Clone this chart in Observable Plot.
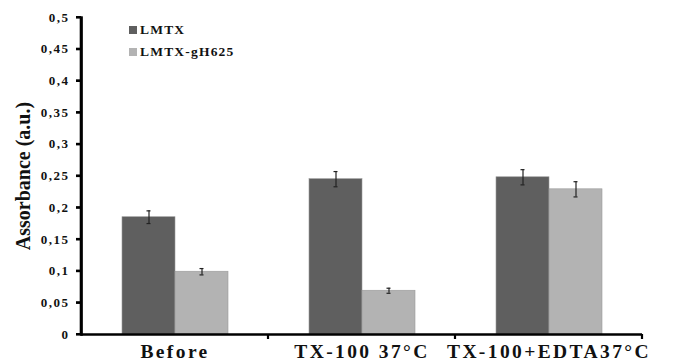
<!DOCTYPE html>
<html><head><meta charset="utf-8">
<script src="https://cdn.jsdelivr.net/npm/d3@7"></script>
<script src="https://cdn.jsdelivr.net/npm/@observablehq/plot@0.6"></script>
<style>
html,body{margin:0;padding:0;background:#fff;}
#wrap{position:relative;width:681px;height:363px;overflow:hidden;background:#fff;}
#wrap > svg{position:absolute;left:0;top:0;}
#overlay{position:absolute;left:0;top:0;pointer-events:none;z-index:5;}
#legend{position:absolute;left:129px;top:19px;font:bold 13.5px "Liberation Serif",serif;letter-spacing:1.2px;color:#111;z-index:6;}
#legend .row{display:flex;align-items:center;height:22px;}
#legend .sw{width:8px;height:8px;margin-right:3px;}
svg [aria-label="y-axis tick label"] text{letter-spacing:1.5px;}
svg [aria-label="fx-axis tick label"] text{letter-spacing:2.4px;}
</style></head>
<body><div id="wrap"></div>
<script>
const categories = ["Before", "TX-100 37°C", "TX-100+EDTA37°C"];
const seriesNames = ["LMTX", "LMTX-gH625"];
const lmtxValues = [0.185, 0.245, 0.248];
const lmtxErrors = [0.010, 0.012, 0.012];
const gh625Values = [0.099, 0.069, 0.229];
const gh625Errors = [0.005, 0.004, 0.012];
const yTicks = [0, 0.05, 0.1, 0.15, 0.2, 0.25, 0.3, 0.35, 0.4, 0.45, 0.5];
const yLabel = "Assorbance (a.u.)";
const colors = ["#5f5f5f", "#b3b3b3"];

const W = 681, H = 363, ML = 81, MR = 39, MT = 17, MB = 29;

const rows = [];
categories.forEach((c, i) => {
  rows.push({category: c, series: seriesNames[0], value: lmtxValues[i], err: lmtxErrors[i]});
  rows.push({category: c, series: seriesNames[1], value: gh625Values[i], err: gh625Errors[i]});
});

const plot = Plot.plot({
  width: W, height: H,
  marginLeft: ML, marginRight: MR, marginTop: MT, marginBottom: MB,
  style: {fontFamily: '"Liberation Serif", serif', background: "white", color: "#111"},
  fx: {domain: categories, padding: 0, label: null},
  x: {domain: seriesNames, paddingInner: 0, paddingOuter: 0.76, axis: null},
  y: {domain: [0, 0.5]},
  color: {domain: seriesNames, range: colors},
  marks: [
    Plot.barY(rows, {fx: "category", x: "series", y: "value", fill: "series", stroke: "#9a9a9a", strokeWidth: 0.6}),
    Plot.ruleX(rows, {fx: "category", x: "series", y1: d => d.value - d.err, y2: d => d.value + d.err, stroke: "#222", strokeWidth: 1.2}),
    Plot.tickY(rows, {fx: "category", x: "series", y: d => d.value - d.err, stroke: "#222", strokeWidth: 1.2, insetLeft: 24.5, insetRight: 24.5}),
    Plot.tickY(rows, {fx: "category", x: "series", y: d => d.value + d.err, stroke: "#222", strokeWidth: 1.2, insetLeft: 24.5, insetRight: 24.5}),
    Plot.ruleY([0], {stroke: "#000", strokeWidth: 2.6}),
    Plot.frame({anchor: "left", facetAnchor: "left", stroke: "#000", strokeWidth: 2.6}),
    Plot.axisY(yTicks, {tickFormat: d => String(d).replace(".", ","), tickSize: 5, tickPadding: 7, stroke: "#000", strokeWidth: 2.2, fontSize: 13, fontWeight: "bold", label: null}),
    Plot.axisY({ticks: [], label: yLabel, labelAnchor: "center", labelArrow: "none", labelOffset: 66, fontSize: 20, fontWeight: "bold"}),
    Plot.axisFx({anchor: "bottom", tickSize: 0, tickPadding: 10, fontSize: 19.5, fontWeight: "bold", label: null})
  ]
});

const wrap = document.getElementById("wrap");
wrap.appendChild(plot);

// Overlay: y-axis spine, y tick nubs and category boundary ticks, positioned with the plot's own scales
const ys = plot.scale("y");
const fxs = plot.scale("fx");
const y0 = ys.apply(0), yTop = ys.apply(d3.max(yTicks));
const left = fxs.apply(categories[0]);
const ov = d3.create("svg").attr("id", "overlay").attr("width", W).attr("height", H).attr("viewBox", `0 0 ${W} ${H}`);
const g = ov.append("g").attr("stroke", "#000").attr("fill", "none");
g.append("line").attr("x1", left).attr("x2", left).attr("y1", yTop).attr("y2", y0 + 1.3).attr("stroke-width", 2.6);
yTicks.forEach(t => {
  g.append("line").attr("x1", left - 5).attr("x2", left).attr("y1", ys.apply(t)).attr("y2", ys.apply(t)).attr("stroke-width", 2);
});
categories.forEach(c => {
  const x = fxs.apply(c) + fxs.bandwidth;
  g.append("line").attr("x1", x).attr("x2", x).attr("y1", y0).attr("y2", y0 + 5).attr("stroke-width", 2.2);
});
wrap.appendChild(ov.node());

const legend = document.createElement("div");
legend.id = "legend";
seriesNames.forEach((s, i) => {
  const r = document.createElement("div");
  r.className = "row";
  const sw = document.createElement("span");
  sw.className = "sw";
  sw.style.background = colors[i];
  const t = document.createElement("span");
  t.textContent = s;
  r.appendChild(sw); r.appendChild(t);
  legend.appendChild(r);
});
wrap.appendChild(legend);
</script>
</body></html>
